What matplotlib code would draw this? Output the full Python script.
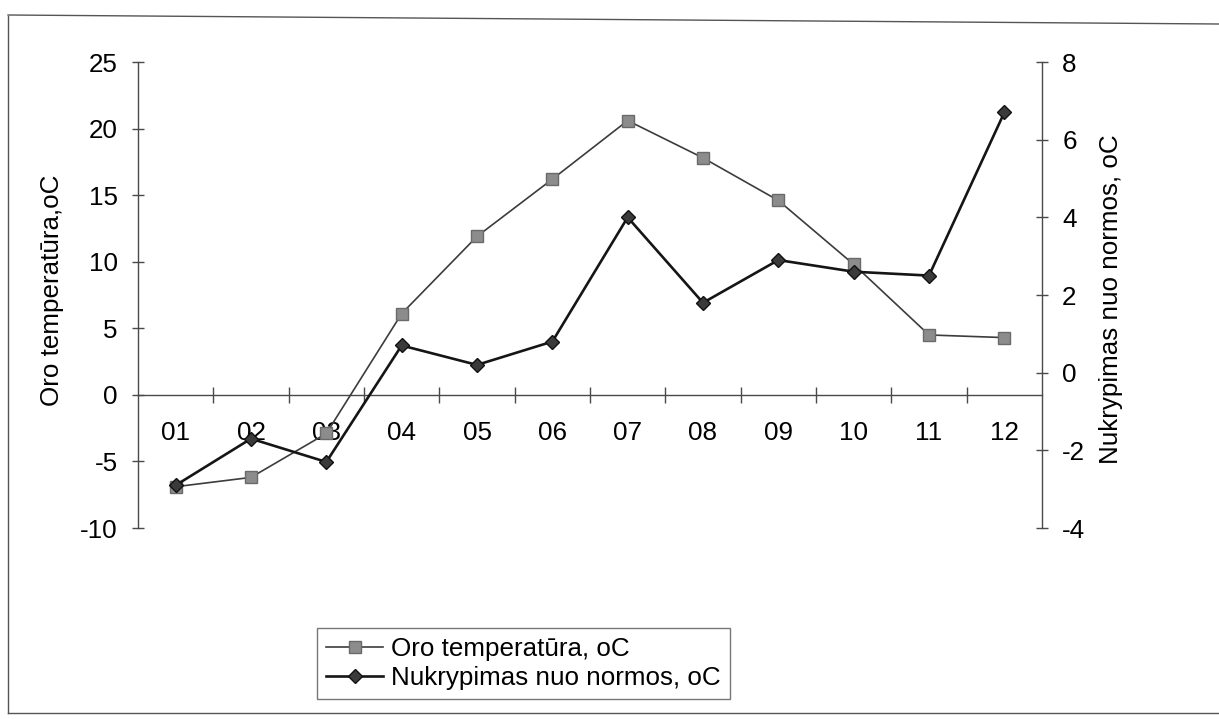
import numpy as np
import matplotlib
matplotlib.use('Agg')
import matplotlib.pyplot as plt
from matplotlib.lines import Line2D

plt.rcParams['font.family'] = ['Liberation Sans', 'DejaVu Sans']
plt.rcParams['axes.unicode_minus'] = False

# Monthly data
months = ['01', '02', '03', '04', '05', '06', '07', '08', '09', '10', '11', '12']
air_temp = [-6.9, -6.2, -2.9, 6.1, 11.9, 16.2, 20.6, 17.8, 14.6, 9.8, 4.5, 4.3]  # oC
deviation = [-2.9, -1.7, -2.3, 0.7, 0.2, 0.8, 4.0, 1.8, 2.9, 2.6, 2.5, 6.7]  # oC from normal

W, H = 1219, 719
fs = 18.7
axis_col = '#4a4a4a'

fig = plt.figure(figsize=(W / 100, H / 100), dpi=100)
fig.patch.set_facecolor('white')

# plot area in pixels: x 138..1042, y 62..528
left, right, top, bottom = 138, 1042, 62, 528
ax = fig.add_axes([left / W, 1 - bottom / H, (right - left) / W, (bottom - top) / H])
ax2 = ax.twinx()

x = np.arange(len(months))

l1, = ax.plot(x, air_temp, color='#3c3c3c', lw=1.2, marker='s', markersize=8,
              markerfacecolor='#8c8c8c', markeredgecolor='#6a6a6a', zorder=3)
l2, = ax2.plot(x, deviation, color='#151515', lw=1.9, marker='D', markersize=6.8,
               markerfacecolor='#3a3a3a', markeredgecolor='#111111', zorder=4)

ax.set_xlim(-0.5, len(months) - 0.5)
ax.set_ylim(-10, 25)
ax.set_yticks(np.arange(-10, 26, 5))
ax2.set_ylim(-4, 8)
ax2.set_yticks(np.arange(-4, 9, 2))

# x axis crosses at 0 of the left scale
ax.spines['bottom'].set_position(('data', 0))
ax.spines['top'].set_visible(False)
ax.spines['right'].set_visible(False)
ax2.spines['top'].set_visible(False)
ax2.spines['left'].set_visible(False)
ax2.spines['bottom'].set_visible(False)
for sp in [ax.spines['left'], ax.spines['bottom'], ax2.spines['right']]:
    sp.set_color(axis_col)
    sp.set_linewidth(1.0)

# category labels between the boundary ticks
ax.set_xticks(x)
ax.set_xticklabels(months)
ax.set_xticks(np.arange(0.5, len(months) - 1, 1), minor=True)
ax.tick_params(axis='x', which='major', length=0, pad=19, labelsize=fs)
ax.tick_params(axis='x', which='minor', direction='inout', length=11, width=1.0, color=axis_col)
ax.tick_params(axis='y', direction='inout', length=9, width=1.0, color=axis_col, pad=10, labelsize=fs)
ax2.tick_params(axis='y', direction='inout', length=9, width=1.0, color=axis_col, pad=10, labelsize=fs)

ax.set_zorder(1)
ax2.set_zorder(2)
ax.patch.set_visible(False)
ax2.patch.set_visible(False)

fig.text(52 / W, 1 - 290 / H, 'Oro temperatūra,oC', rotation=90, ha='center', va='center', fontsize=fs)
fig.text(1111 / W, 1 - 299 / H, 'Nukrypimas nuo normos, oC', rotation=90, ha='center', va='center', fontsize=fs)

leg = fig.legend([l1, l2], ['Oro temperatūra, oC', 'Nukrypimas nuo normos, oC'],
                 loc='upper left', bbox_to_anchor=(317 / W, 1 - 628 / H),
                 fontsize=fs, frameon=True, fancybox=False, shadow=False,
                 handlelength=2.2, handletextpad=0.3, borderpad=0.35,
                 labelspacing=0.2, borderaxespad=0)
leg.get_frame().set_edgecolor('#555555')
leg.get_frame().set_linewidth(1.0)

# chart area border
fig.add_artist(Line2D([8 / W, 8 / W], [1 - 16 / H, 1 - 713 / H], transform=fig.transFigure, color='#555555', lw=1.0))
fig.add_artist(Line2D([8 / W, 1.0], [1 - 15 / H, 1 - 24 / H], transform=fig.transFigure, color='#555555', lw=1.0))
fig.add_artist(Line2D([8 / W, 1.0], [1 - 713 / H, 1 - 713 / H], transform=fig.transFigure, color='#555555', lw=1.0))

fig.savefig('out.png', dpi=100)
